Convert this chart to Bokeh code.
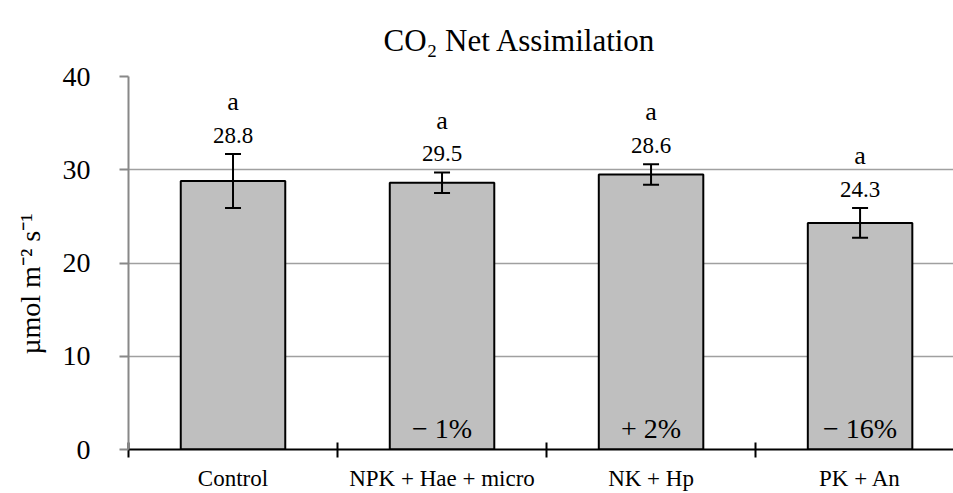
from bokeh.plotting import figure
from bokeh.models import ColumnDataSource, FixedTicker, Whisker, TeeHead, Range1d, Title
from bokeh.core.properties import value
from bokeh.embed import file_html
from bokeh.resources import INLINE

# ---- data ----
categories = ["Control", "NPK + Hae + micro", "NK + Hp", "PK + An"]
values = [28.8, 28.6, 29.5, 24.3]
errors = [2.9, 1.1, 1.1, 1.6]
value_labels = ["28.8", "29.5", "28.6", "24.3"]
letters = ["a", "a", "a", "a"]
change_labels = ["", "\u2212 1%", "+ 2%", "\u2212 16%"]
y_ticks = [0, 10, 20, 30, 40]
title_text = "CO\u2082 Net Assimilation"

FONT = "'Liberation Serif', serif"
xs = list(range(len(categories)))
src = ColumnDataSource(dict(
    x=xs,
    top=values,
    upper=[v + e for v, e in zip(values, errors)],
    lower=[v - e for v, e in zip(values, errors)],
    vlab_y=[v + e + 2.0 for v, e in zip(values, errors)],
    let_y=[v + e + 5.6 for v, e in zip(values, errors)],
    vlab=value_labels,
    let=letters,
    chg=change_labels,
    chg_y=[2.2] * len(categories),
))

p = figure(width=953, height=493, output_backend="svg", toolbar_location=None,
           x_range=Range1d(-0.5, 3.447), y_range=Range1d(0, 40),
           min_border_left=128, min_border_right=0, min_border_top=76,
           min_border_bottom=43, outline_line_color=None)

main_title = Title(text=title_text, align="left", offset=255, standoff=38,
                   text_font=FONT, text_font_size="31px",
                   text_font_style="normal", text_color="black")
p.add_layout(main_title, "above")

p.vbar(x="x", top="top", width=0.5, source=src, fill_color="#BFBFBF",
       line_color="black", line_width=2)

wh = Whisker(source=src, base="x", upper="upper", lower="lower",
             line_color="black", line_width=2, level="overlay",
             upper_head=TeeHead(size=16, line_width=2, line_color="black"),
             lower_head=TeeHead(size=16, line_width=2, line_color="black"))
p.add_layout(wh)

p.text(x="x", y="vlab_y", text="vlab", source=src, text_align="center",
       text_baseline="middle", text_font=value(FONT), text_font_size="23px",
       text_color="black")
p.text(x="x", y="let_y", text="let", source=src, text_align="center",
       text_baseline="middle", text_font=value(FONT), text_font_size="26px",
       text_color="black")
p.text(x="x", y="chg_y", text="chg", source=src, text_align="center",
       text_baseline="middle", text_font=value(FONT), text_font_size="28px",
       text_color="black")

# x axis
p.xaxis.ticker = FixedTicker(ticks=xs, minor_ticks=[-0.5, 0.5, 1.5, 2.5])
p.xaxis.major_label_overrides = {i: c for i, c in zip(xs, categories)}
p.xaxis.major_tick_line_color = None
p.xaxis.major_tick_out = 0
p.xaxis.major_tick_in = 0
p.xaxis.minor_tick_line_color = "black"
p.xaxis.minor_tick_line_width = 2
p.xaxis.minor_tick_in = 7
p.xaxis.minor_tick_out = 8
p.xaxis.axis_line_color = "black"
p.xaxis.axis_line_width = 2
p.xaxis.major_label_text_font = FONT
p.xaxis.major_label_text_font_size = "23px"
p.xaxis.major_label_text_color = "black"
p.xaxis.major_label_standoff = 8
p.xgrid.grid_line_color = None

# y axis
p.yaxis.ticker = FixedTicker(ticks=y_ticks)
p.yaxis.minor_tick_line_color = None
p.yaxis.major_tick_in = 0
p.yaxis.major_tick_out = 9
p.yaxis.major_tick_line_color = "#888888"
p.yaxis.major_tick_line_width = 2
p.yaxis.axis_line_color = "#888888"
p.yaxis.axis_line_width = 2
p.yaxis.major_label_text_font = FONT
p.yaxis.major_label_text_font_size = "28px"
p.yaxis.major_label_text_color = "black"
p.yaxis.major_label_standoff = 29
p.yaxis.axis_label = "\u00b5mol  m\u207b\u00b2 s\u207b\u00b9" + "\u00a0" * 5
p.yaxis.axis_label_text_font = FONT
p.yaxis.axis_label_text_font_size = "28px"
p.yaxis.axis_label_text_font_style = "normal"
p.yaxis.axis_label_text_color = "black"
p.yaxis.axis_label_standoff = 14
p.ygrid.grid_line_color = "#A0A0A0"
p.ygrid.grid_line_width = 1.3

p.background_fill_color = "white"
p.border_fill_color = "white"

open("out.html", "w").write(file_html(p, INLINE))
